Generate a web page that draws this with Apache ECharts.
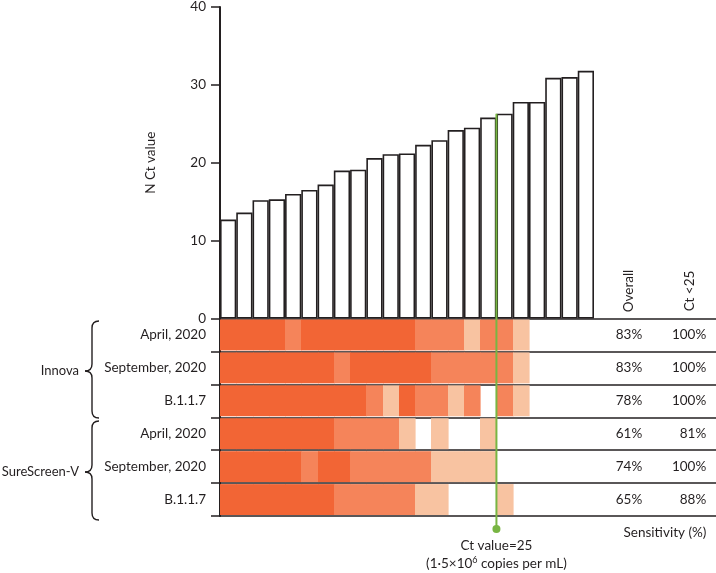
<!DOCTYPE html>
<html>
<head>
<meta charset="utf-8">
<script src="https://cdn.jsdelivr.net/npm/echarts@6/dist/echarts.min.js"></script>
<style>
html,body{margin:0;padding:0;background:#fff;}
#chart{width:716px;height:573px;}
</style>
</head>
<body>
<div id="chart"></div>
<script>
// ---- data ----
const samples = ['S1','S2','S3','S4','S5','S6','S7','S8','S9','S10','S11','S12','S13','S14','S15','S16','S17','S18','S19','S20','S21','S22','S23'];
const ctValues = [12.7,13.6,15.2,15.3,16.0,16.5,17.2,19.0,19.1,20.6,21.1,21.2,22.3,22.9,24.2,24.5,25.8,26.3,27.8,27.8,30.9,31.0,31.8];
const yTicks = [0,10,20,30,40];
const rowLabels = ['April, 2020','September, 2020','B.1.1.7','April, 2020','September, 2020','B.1.1.7'];
const groups = ['Innova','SureScreen-V'];
// 3 = strong, 2 = medium, 1 = weak, 0 = negative
const innovaApril     = [3,3,3,3,2,3,3,3,3,3,3,3,2,2,2,1,2,2,1,0,0,0,0];
const innovaSept      = [3,3,3,3,3,3,3,2,3,3,3,3,3,2,2,2,2,2,1,0,0,0,0];
const innovaB117      = [3,3,3,3,3,3,3,3,3,2,1,3,2,2,1,2,0,2,1,0,0,0,0];
const sureApril       = [3,3,3,3,3,3,3,2,2,2,2,1,0,1,0,0,1,0,0,0,0,0,0];
const sureSept        = [3,3,3,3,3,2,3,3,2,2,2,2,2,1,1,1,1,0,0,0,0,0,0];
const sureB117        = [3,3,3,3,3,3,3,2,2,2,2,2,1,1,0,0,0,1,0,0,0,0,0];
const sensOverall = ['83%','83%','78%','61%','74%','65%'];
const sensCt25    = ['100%','100%','100%','81%','100%','88%'];
const thresholdIndex = 17; // Ct value = 25 falls before this sample

const rows = [innovaApril, innovaSept, innovaB117, sureApril, sureSept, sureB117];
const cellData = [];
rows.forEach((r, ri) => r.forEach((v, ci) => cellData.push([ci, ri, v])));
const sensData = rowLabels.map((_, i) => [i, sensOverall[i], sensCt25[i]]);

const levelColors = ['#ffffff', '#f8c3a1', '#f5845a', '#f26535'];
const FONT = 'Lato, "Noto Sans", sans-serif';
const FS = 13.5;
const TXT = '#231f20';

const chart = echarts.init(document.getElementById('chart'));
const option = {
  animation: false,
  backgroundColor: '#fff',
  grid: [
    {left: 220, top: 5, width: 374, height: 313.5},
    {left: 220, top: 318.5, width: 496, height: 197.5}
  ],
  xAxis: [
    {gridIndex: 0, type: 'category', data: samples, show: false},
    {gridIndex: 1, type: 'value', min: 0, max: 30.5, show: false}
  ],
  yAxis: [
    {gridIndex: 0, type: 'value', min: yTicks[0], max: yTicks[yTicks.length-1], interval: 10,
     axisLine: {show: true, lineStyle: {color: TXT, width: 2}},
     axisTick: {show: true, length: 9, lineStyle: {color: TXT, width: 1.5}},
     axisLabel: {color: TXT, fontSize: FS, fontFamily: FONT, margin: 14},
     splitLine: {show: false},
     name: 'N Ct value', nameLocation: 'middle', nameRotate: 90, nameGap: 62,
     nameTextStyle: {color: TXT, fontSize: FS, fontFamily: FONT}},
    {gridIndex: 1, type: 'category', inverse: true, data: rowLabels.map((_, i) => 'r' + i),
     axisLine: {show: true, lineStyle: {color: TXT, width: 2}},
     axisTick: {show: true, length: 9, lineStyle: {color: TXT, width: 1.5}},
     axisLabel: {color: TXT, fontSize: FS, fontFamily: FONT, margin: 14, formatter: (v, i) => rowLabels[i]},
     splitLine: {show: true, lineStyle: {color: TXT, width: 1.5}}}
  ],
  series: [
    {type: 'bar', xAxisIndex: 0, yAxisIndex: 0, data: ctValues, barCategoryGap: '0%',
     itemStyle: {color: '#fff', borderColor: TXT, borderWidth: 1.6}},
    {type: 'custom', xAxisIndex: 1, yAxisIndex: 1, data: cellData,
     encode: {x: 0, y: 1},
     renderItem: function (params, api) {
       const c = api.value(0), r = api.value(1), lvl = api.value(2);
       if (!lvl) return null;
       const p0 = api.coord([c, r]);
       const p1 = api.coord([c + 1, r]);
       const bh = api.size([0, 1])[1];
       const x0 = Math.round(p0[0]), x1 = Math.round(p1[0]);
       return {type: 'rect', shape: {x: x0, y: p0[1] - bh / 2 + 1, width: x1 - x0 + 0.6, height: bh - 2},
               style: {fill: levelColors[lvl]}};
     }},
    {type: 'custom', xAxisIndex: 1, yAxisIndex: 1, data: sensData,
     encode: {y: 0},
     renderItem: function (params, api) {
       const r = api.value(0);
       const d = sensData[params.dataIndex];
       const pa = api.coord([25.15, r]);
       const pb = api.coord([29.9, r]);
       return {type: 'group', children: [
         {type: 'text', x: pa[0], y: pa[1], style: {text: d[1], fill: TXT, font: FS + 'px ' + FONT, align: 'center', verticalAlign: 'middle'}},
         {type: 'text', x: pb[0], y: pb[1], style: {text: d[2], fill: TXT, font: FS + 'px ' + FONT, align: 'right', verticalAlign: 'middle'}}
       ]};
     }}
  ]
};
chart.setOption(option);

function brace(y0, yt, y1) {
  const xr = 99, xm = 92, xt = 85, k = 7;
  const st = {fill: null, stroke: TXT, lineWidth: 1.4};
  return {type: 'group', children: [
    {type: 'bezierCurve', shape: {x1: xr, y1: y0, cpx1: xm, cpy1: y0, x2: xm, y2: y0 + k}, style: st},
    {type: 'line', shape: {x1: xm, y1: y0 + k, x2: xm, y2: yt - k}, style: st},
    {type: 'bezierCurve', shape: {x1: xm, y1: yt - k, cpx1: xm, cpy1: yt, x2: xt, y2: yt}, style: st},
    {type: 'bezierCurve', shape: {x1: xt, y1: yt, cpx1: xm, cpy1: yt, x2: xm, y2: yt + k}, style: st},
    {type: 'line', shape: {x1: xm, y1: yt + k, x2: xm, y2: y1 - k}, style: st},
    {type: 'bezierCurve', shape: {x1: xm, y1: y1 - k, cpx1: xm, cpy1: y1, x2: xr, y2: y1}, style: st}
  ]};
}

const xa = chart.convertToPixel({xAxisIndex: 0}, thresholdIndex - 1);
const xb = chart.convertToPixel({xAxisIndex: 0}, thresholdIndex);
const gx = (xa + xb) / 2;
const gTop = chart.convertToPixel({yAxisIndex: 0}, ctValues[thresholdIndex]);
const GREEN = '#78b543';
const F = FS + 'px ' + FONT;
const FG = '13px ' + FONT;

chart.setOption({
  graphic: [
    brace(321, 371, 418),
    brace(421, 472, 520),
    {type: 'text', x: 79, y: 371, style: {text: groups[0], fill: TXT, font: FG, align: 'right', verticalAlign: 'middle'}},
    {type: 'text', x: 79, y: 472, style: {text: groups[1], fill: TXT, font: FG, align: 'right', verticalAlign: 'middle'}},
    {type: 'text', x: 629, y: 291, rotation: Math.PI / 2, style: {text: 'Overall', fill: TXT, font: F, align: 'center', verticalAlign: 'middle'}},
    {type: 'text', x: 690, y: 291, rotation: Math.PI / 2, style: {text: 'Ct <25', fill: TXT, font: F, align: 'center', verticalAlign: 'middle'}},
    {type: 'text', x: 665, y: 533, style: {text: 'Sensitivity (%)', fill: TXT, font: F, align: 'center', verticalAlign: 'middle'}},
    {type: 'line', z: 100, shape: {x1: gx, y1: gTop, x2: gx, y2: 529}, style: {stroke: GREEN, lineWidth: 2}},
    {type: 'circle', z: 100, shape: {cx: gx, cy: 529, r: 4}, style: {fill: GREEN}},
    {type: 'text', x: gx, y: 546, style: {text: 'Ct value=25', fill: TXT, font: F, align: 'center', verticalAlign: 'middle'}},
    {type: 'text', x: gx, y: 564, style: {text: '(1·5×10{sup|6} copies per mL)', fill: TXT, font: F, align: 'center', verticalAlign: 'middle',
      rich: {sup: {fontSize: 9, fontFamily: FONT, fill: TXT, padding: [0, 0, 7, 0]}}}}
  ]
});
</script>
</body>
</html>
